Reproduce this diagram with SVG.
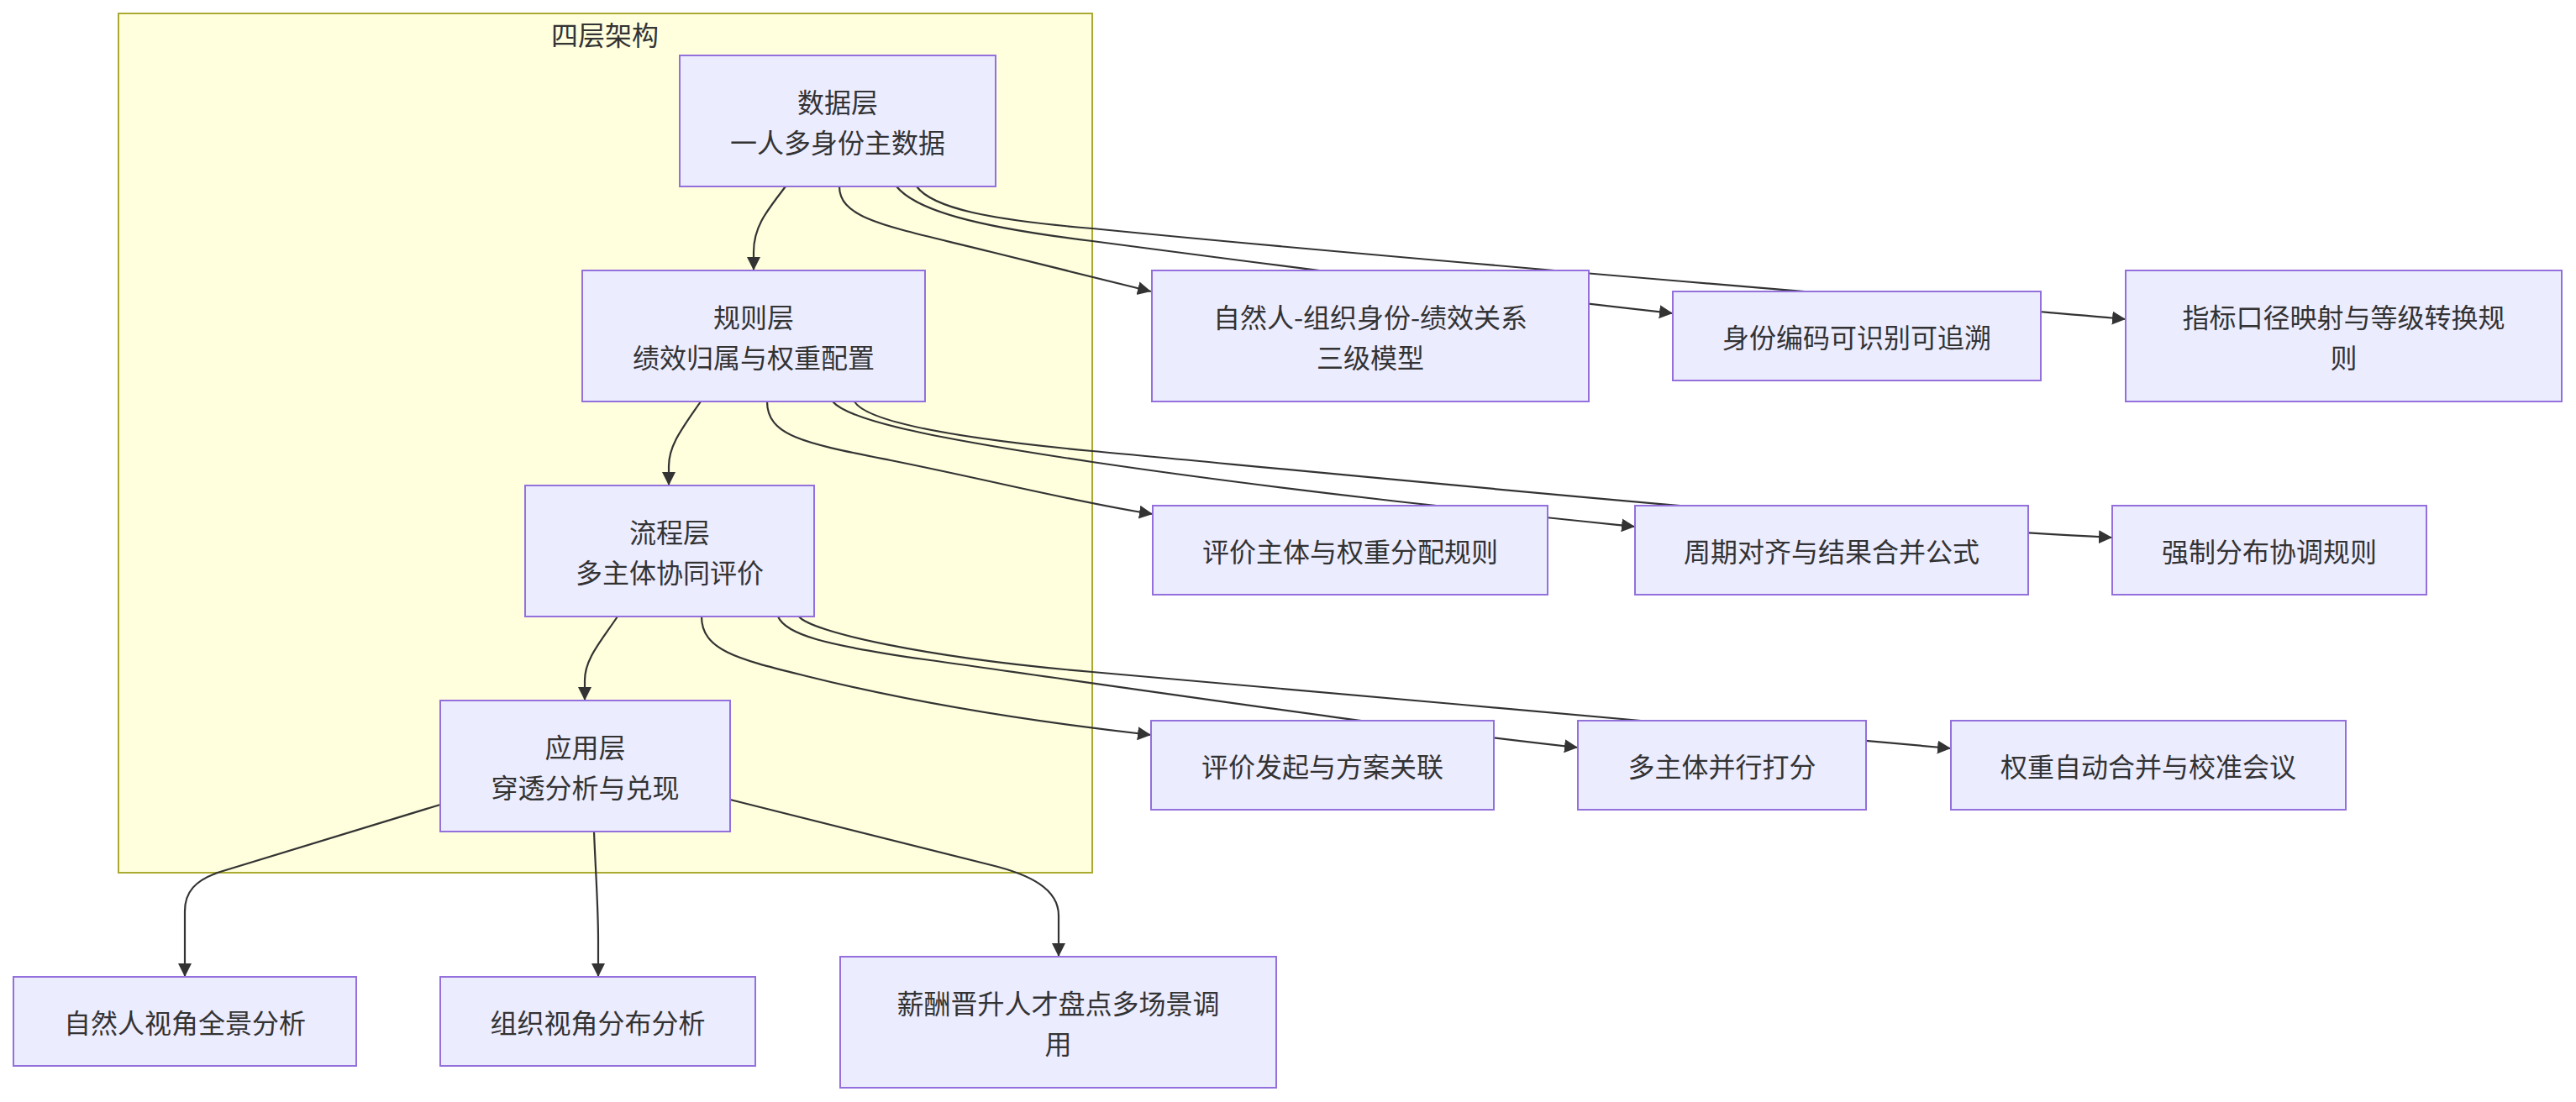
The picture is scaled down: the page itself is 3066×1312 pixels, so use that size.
<svg xmlns="http://www.w3.org/2000/svg" width="3066" height="1312" viewBox="0 0 3066 1312">
<style>
.bg{fill:#ffffff}
.cluster{fill:#ffffde;stroke:#aaaa33;stroke-width:2}
.node rect{fill:#ececff;stroke:#9370db;stroke-width:2}
.edge{fill:none;stroke:#333333;stroke-width:2.2}
text{font-family:"Noto Sans CJK SC","Noto Sans",sans-serif;font-size:32px;fill:#333333;text-anchor:middle;dominant-baseline:central}
</style>
<defs>
<marker id="arrow" markerUnits="userSpaceOnUse" markerWidth="18" markerHeight="18" refX="16" refY="8" orient="auto">
<path d="M0,0 L16,8 L0,16 z" fill="#333333"/>
</marker>
</defs>
<rect class="bg" x="0" y="0" width="3066" height="1312"/>
<g id="cluster-four-layer">
<rect class="cluster" x="141" y="16" width="1159" height="1023"/>
<text x="720" y="40">四层架构</text>
</g>
<g id="connectors">
<path class="edge" marker-end="url(#arrow)" d="M935,222 C912,252 897,270 897,300 L897,322"/>
<path class="edge" marker-end="url(#arrow)" d="M999,222 C999,262 1060,270 1180,300 L1370,347"/>
<path class="edge" marker-end="url(#arrow)" d="M1067,222 C1090,250 1160,270 1300,287 C1550,320 1800,352 1991,373"/>
<path class="edge" marker-end="url(#arrow)" d="M1091,222 C1110,248 1180,262 1300,272 C1700,312 2150,346 2530,380"/>
<path class="edge" marker-end="url(#arrow)" d="M834,478 C812,510 796,530 796,555 L796,578"/>
<path class="edge" marker-end="url(#arrow)" d="M913,478 C913,520 960,528 1060,548 C1180,572 1290,600 1372,612"/>
<path class="edge" marker-end="url(#arrow)" d="M991,478 C1010,500 1100,520 1300,550 C1550,587 1800,612 1946,627"/>
<path class="edge" marker-end="url(#arrow)" d="M1017,478 C1030,500 1120,520 1300,537 C1600,565 2200,625 2514,640"/>
<path class="edge" marker-end="url(#arrow)" d="M735,734 C714,765 696,785 696,810 L696,834"/>
<path class="edge" marker-end="url(#arrow)" d="M835,734 C835,775 880,785 960,805 C1120,845 1280,865 1370,875"/>
<path class="edge" marker-end="url(#arrow)" d="M926,734 C935,755 980,768 1100,785 C1350,820 1650,865 1878,890"/>
<path class="edge" marker-end="url(#arrow)" d="M951,734 C965,752 1100,783 1300,800 C1600,826 2150,876 2322,891"/>
<path class="edge" marker-end="url(#arrow)" d="M524,958 L262,1038 C232,1048 220,1062 220,1085 L220,1163"/>
<path class="edge" marker-end="url(#arrow)" d="M707,990 C709,1040 712,1080 712,1120 L712,1163"/>
<path class="edge" marker-end="url(#arrow)" d="M869,952 L1180,1030 C1225,1041 1260,1058 1260,1090 L1260,1139"/>
</g>
<g id="node-data" class="node">
<rect x="809" y="66" width="376" height="156"/>
<text x="997" y="120">数据层</text>
<text x="997" y="168">一人多身份主数据</text>
</g>
<g id="node-rule" class="node">
<rect x="693" y="322" width="408" height="156"/>
<text x="897" y="376">规则层</text>
<text x="897" y="424">绩效归属与权重配置</text>
</g>
<g id="node-process" class="node">
<rect x="625" y="578" width="344" height="156"/>
<text x="797" y="632">流程层</text>
<text x="797" y="680">多主体协同评价</text>
</g>
<g id="node-app" class="node">
<rect x="524" y="834" width="345" height="156"/>
<text x="696.5" y="888">应用层</text>
<text x="696.5" y="936">穿透分析与兑现</text>
</g>
<g id="node-model" class="node">
<rect x="1371" y="322" width="520" height="156"/>
<text x="1631" y="376">自然人-组织身份-绩效关系</text>
<text x="1631" y="424">三级模型</text>
</g>
<g id="node-code" class="node">
<rect x="1991" y="347" width="438" height="106"/>
<text x="2210" y="400">身份编码可识别可追溯</text>
</g>
<g id="node-mapping" class="node">
<rect x="2530" y="322" width="519" height="156"/>
<text x="2789.5" y="376">指标口径映射与等级转换规</text>
<text x="2789.5" y="424">则</text>
</g>
<g id="node-subject" class="node">
<rect x="1372" y="602" width="470" height="106"/>
<text x="1607" y="655">评价主体与权重分配规则</text>
</g>
<g id="node-cycle" class="node">
<rect x="1946" y="602" width="468" height="106"/>
<text x="2180" y="655">周期对齐与结果合并公式</text>
</g>
<g id="node-force" class="node">
<rect x="2514" y="602" width="374" height="106"/>
<text x="2701" y="655">强制分布协调规则</text>
</g>
<g id="node-launch" class="node">
<rect x="1370" y="858" width="408" height="106"/>
<text x="1574" y="911">评价发起与方案关联</text>
</g>
<g id="node-parallel" class="node">
<rect x="1878" y="858" width="343" height="106"/>
<text x="2049.5" y="911">多主体并行打分</text>
</g>
<g id="node-merge" class="node">
<rect x="2322" y="858" width="470" height="106"/>
<text x="2557" y="911">权重自动合并与校准会议</text>
</g>
<g id="node-person-view" class="node">
<rect x="16" y="1163" width="408" height="106"/>
<text x="220" y="1216">自然人视角全景分析</text>
</g>
<g id="node-org-view" class="node">
<rect x="524" y="1163" width="375" height="106"/>
<text x="711.5" y="1216">组织视角分布分析</text>
</g>
<g id="node-scenario" class="node">
<rect x="1000" y="1139" width="519" height="156"/>
<text x="1259.5" y="1193">薪酬晋升人才盘点多场景调</text>
<text x="1259.5" y="1241">用</text>
</g>
</svg>
